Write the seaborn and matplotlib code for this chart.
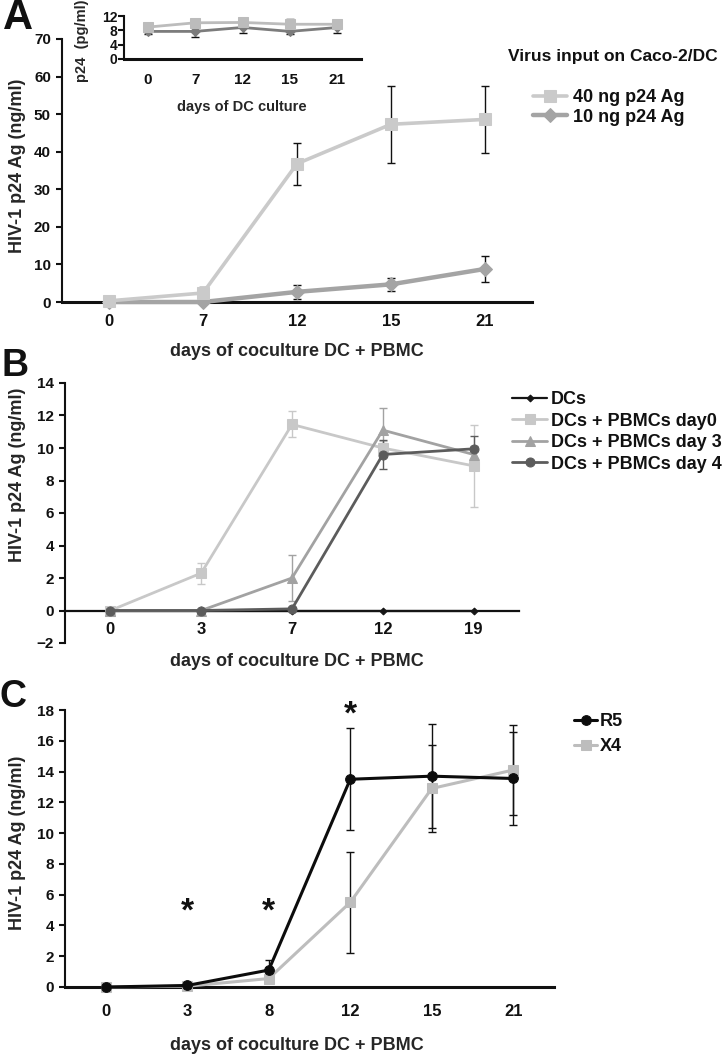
import numpy as np
import matplotlib
matplotlib.use("Agg")
import matplotlib.pyplot as plt
import seaborn as sns

W, H = 722, 1054

# ---- panel A: p24 in DC + PBMC coculture for two virus inputs (ng/ml)
a_days = ["0", "7", "12", "15", "21"]
a_40ng = [0.3, 2.4, 36.8, 47.3, 48.6]
a_40ng_err = [0.4, 1.6, 5.6, 10.3, 9.0]
a_10ng = [0.0, 0.0, 2.7, 4.7, 8.8]
a_10ng_err = [0.0, 0.0, 1.8, 1.7, 3.5]

# inset: p24 in DC culture alone (pg/ml)
a_in_40ng = [8.9, 10.1, 10.2, 9.7, 9.7]
a_in_40ng_err = [0.8, 0.8, 0.8, 1.6, 0.8]
a_in_10ng = [7.7, 7.7, 8.8, 7.7, 8.8]
a_in_10ng_err = [0.6, 1.5, 1.6, 0.6, 1.6]

# ---- panel B: PBMCs added at different days
b_days = ["0", "3", "7", "12", "19"]
b_dcs = [0, 0, 0, 0, 0]
b_day0 = [0, 2.3, 11.45, 10.0, 8.9]
b_day0_err = [0, 0.65, 0.8, 0.4, 2.5]
b_day3 = [0, 0, 2.0, 11.1, 9.6]
b_day3_err = [0, 0, 1.4, 1.35, 0.5]
b_day4 = [0, 0, 0.1, 9.6, 9.95]
b_day4_err = [0, 0, 0, 0.9, 0.8]

# ---- panel C: R5 vs X4 virus
c_days = ["0", "3", "8", "12", "15", "21"]
c_r5 = [0, 0.1, 1.1, 13.5, 13.7, 13.55]
c_r5_err = [0, 0.1, 0.65, 3.3, 3.4, 3.05]
c_x4 = [0, 0.05, 0.55, 5.5, 12.9, 14.1]
c_x4_err = [0, 0, 0.1, 3.3, 2.85, 2.9]
c_star_days = ["3", "8", "12"]
c_star_y = [4.9, 4.9, 17.7]

sns.set_theme(style="white")
plt.rcParams["font.family"] = ["Liberation Sans", "DejaVu Sans"]
plt.rcParams["font.weight"] = "bold"
plt.rcParams["axes.labelweight"] = "bold"
plt.rcParams["text.color"] = "#111111"
plt.rcParams["xtick.color"] = "#111111"
plt.rcParams["ytick.color"] = "#111111"

fig = plt.figure(figsize=(W / 100, H / 100), dpi=100)
fig.patch.set_facecolor("white")


def place(l, r, top, bottom):
    # pixel box -> figure fraction
    return fig.add_axes([l / W, 1 - bottom / H, (r - l) / W, (bottom - top) / H])


def fx(px):
    return px / W


def fy(py):
    return 1 - py / H


def series(ax, vals, err, color, marker, ms, lw, label, ecolor="#111111", cap=3.0):
    x = np.arange(len(vals))
    if err is not None:
        ax.errorbar(x, vals, yerr=err, fmt="none", ecolor=ecolor, elinewidth=1.0,
                    capsize=cap, capthick=1.0, zorder=2)
    sns.lineplot(x=x, y=vals, ax=ax, color=color, marker=marker, markersize=ms,
                 markeredgecolor=color, linewidth=lw, label=label, errorbar=None,
                 clip_on=False, zorder=3, legend=False)


def style(ax, xlabels, ylim, yticks, xsize=12, ysize=11, xpad=8.6):
    ax.set_facecolor("none")
    ax.set_xlim(-0.5, len(xlabels) - 0.5)
    ax.set_xticks(range(len(xlabels)), xlabels)
    ax.set_ylim(*ylim)
    ax.set_yticks(yticks)
    for s in ["top", "right"]:
        ax.spines[s].set_visible(False)
    ax.spines["left"].set_linewidth(1.5)
    ax.spines["left"].set_color("#111111")
    ax.spines["bottom"].set_linewidth(2.2)
    ax.spines["bottom"].set_color("#111111")
    ax.tick_params(axis="x", length=0, pad=xpad, labelsize=xsize)
    ax.tick_params(axis="y", length=4, width=1.5, pad=4, labelsize=ysize,
                   direction="out", left=True)
    ax.grid(False)


def labels(ax, xl, xc, yl, yc, size=13):
    ax.set_xlabel(xl, fontsize=size, va="center")
    ax.xaxis.set_label_coords(fx(xc[0]), fy(xc[1]), transform=fig.transFigure)
    ax.set_ylabel(yl, fontsize=size, va="center")
    ax.yaxis.set_label_coords(fx(yc[0]), fy(yc[1]), transform=fig.transFigure)


# ================= A =================
axA = place(62, 532, 39, 302)
series(axA, a_10ng, a_10ng_err, "#a4a4a4", "D", 7.5, 3.2, "10 ng p24 Ag")
series(axA, a_40ng, a_40ng_err, "#cacaca", "s", 8, 2.6, "40 ng p24 Ag")
style(axA, a_days, (0, 70), range(0, 71, 10))
labels(axA, "days of coculture DC + PBMC", (297, 351), "HIV-1 p24 Ag (ng/ml)", (18, 166))
h, l = axA.get_legend_handles_labels()
axA.legend(h[::-1], l[::-1], loc="upper left", bbox_to_anchor=(fx(533), fy(89)),
           bbox_transform=fig.transFigure, frameon=False, fontsize=13,
           handlelength=1.9, handletextpad=0.3, labelspacing=0.15,
           borderpad=0, borderaxespad=0)
fig.text(fx(613), fy(57), "Virus input on Caco-2/DC", ha="center", va="center",
         fontsize=12.5, weight="bold")

# inset
axI = place(124, 361, 16, 59)
series(axI, a_in_10ng, a_in_10ng_err, "#7c7c7c", "D", 5, 2.0, None)
series(axI, a_in_40ng, a_in_40ng_err, "#bcbcbc", "s", 7, 2.0, None)
style(axI, a_days, (0, 12), [0, 4, 8, 12], xsize=11, ysize=10, xpad=9.8)
axI.tick_params(axis="y", pad=1)
labels(axI, "days of DC culture", (242, 107), "p24  (pg/ml)", (82, 41), size=10.5)

# ================= B =================
axB = place(65, 519, 383, 643)
series(axB, b_dcs, None, "#151515", "D", 3.5, 1.6, "DCs")
series(axB, b_day0, b_day0_err, "#c8c8c8", "s", 7, 2.0, "DCs + PBMCs day0", ecolor="#c8c8c8")
series(axB, b_day3, b_day3_err, "#a2a2a2", "^", 7.5, 2.0, "DCs + PBMCs day 3", ecolor="#a2a2a2")
series(axB, b_day4, b_day4_err, "#5c5c5c", "o", 6.5, 2.0, "DCs + PBMCs day 4", ecolor="#5c5c5c")
style(axB, b_days, (-2, 14), range(-2, 15, 2))
axB.spines["bottom"].set_position(("data", 0))
axB.spines["bottom"].set_linewidth(1.6)
labels(axB, "days of coculture DC + PBMC", (297, 661), "HIV-1 p24 Ag (ng/ml)", (18, 475))
axB.legend(loc="upper left", bbox_to_anchor=(fx(512), fy(391)),
           bbox_transform=fig.transFigure, frameon=False, fontsize=13,
           handlelength=1.95, handletextpad=0.2, labelspacing=0.25,
           borderpad=0, borderaxespad=0)

# ================= C =================
axC = place(65, 554, 710, 987)
series(axC, c_x4, c_x4_err, "#bdbdbd", "s", 7.5, 2.2, "X4")
series(axC, c_r5, c_r5_err, "#0c0c0c", "o", 7, 2.2, "R5")
style(axC, c_days, (0, 18), range(0, 19, 2), xpad=12.2)
labels(axC, "days of coculture DC + PBMC", (297, 1045), "HIV-1 p24 Ag (ng/ml)", (18, 843))
h, l = axC.get_legend_handles_labels()
axC.legend(h[::-1], l[::-1], loc="upper left", bbox_to_anchor=(fx(574), fy(713)),
           bbox_transform=fig.transFigure, frameon=False, fontsize=13,
           handlelength=1.3, handletextpad=0.15, labelspacing=0.45,
           borderpad=0, borderaxespad=0)
for d, y in zip(c_star_days, c_star_y):
    axC.text(c_days.index(d), y, "*", ha="center", va="center", fontsize=24,
             weight="bold", clip_on=False)

# panel letters
fig.text(fx(18), fy(18), "A", ha="center", va="center", fontsize=30, weight="bold")
fig.text(fx(15), fy(366), "B", ha="center", va="center", fontsize=27, weight="bold")
fig.text(fx(13), fy(697), "C", ha="center", va="center", fontsize=27, weight="bold")

fig.savefig("out.png", dpi=100)
